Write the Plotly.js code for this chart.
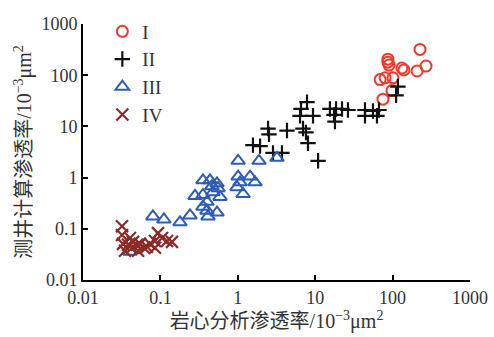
<!DOCTYPE html>
<html>
<head>
<meta charset="utf-8">
<script src="https://cdn.plot.ly/plotly-3.0.1.min.js"></script>
<style>html,body{margin:0;padding:0;background:#fff;}#chart{width:494px;height:337px;}</style>
</head>
<body>
<div id="chart"></div>
<script>
// Class I (red circles)
const x1 = [226, 270, 207, 87, 87, 90, 132, 140, 69, 80, 101, 98, 75];
const y1 = [319, 151, 121, 206, 180, 158, 138, 127, 82, 89, 89, 50, 34];
// Class II (black crosses)
const x2 = [1.57, 1.94, 2.46, 2.53, 2.85, 3.72, 4.32, 6.96, 7.6, 8.07, 10.9, 7.84, 6.56, 6.37, 9.37, 15.5, 18.6, 22.2, 26.5, 17.5, 18.0, 44, 44, 55.8, 66.7, 62.8, 117, 111];
const y2 = [4.3, 4.12, 9.08, 6.98, 3.03, 3.03, 8.3, 9.08, 7.62, 4.7, 2.13, 29.7, 21.9, 16.1, 16.1, 21.9, 21.9, 21.9, 20.9, 16.8, 12.4, 20.9, 16.1, 20, 20.9, 16.1, 60, 40.5];
// Class III (blue triangles)
const x3 = [0.0405, 0.080, 0.111, 0.179, 0.241, 0.355, 0.437, 0.539, 0.464, 0.555, 0.280, 0.355, 0.589, 0.400, 0.355, 0.539, 0.400, 0.412, 1.01, 1.88, 3.21, 1.01, 1.44, 1.07, 1.67, 0.977, 1.17, 0.478];
const y3 = [0.0357, 0.174, 0.152, 0.134, 0.182, 0.885, 0.885, 0.775, 0.68, 0.622, 0.438, 0.457, 0.419, 0.336, 0.27, 0.207, 0.226, 0.174, 2.13, 2.13, 2.43, 1.05, 1.05, 0.81, 0.81, 0.65, 0.478, 0.52];
// Class IV (brown x)
const x4 = [0.0319, 0.0319, 0.0329, 0.0349, 0.0405, 0.0443, 0.0499, 0.043, 0.0545, 0.0614, 0.0514, 0.0382, 0.0734, 0.0851, 0.0931, 0.105, 0.122, 0.141, 0.0851, 0.0671];
const y4 = [0.112, 0.0755, 0.0508, 0.0374, 0.0662, 0.0555, 0.0486, 0.0426, 0.0508, 0.0426, 0.0374, 0.0486, 0.0508, 0.058, 0.0824, 0.0662, 0.058, 0.0555, 0.0426, 0.0446];

const names = ['I', 'II', 'III', 'IV'];
const tickVals = [0.01, 0.1, 1, 10, 100, 1000];
const tickText = ['0.01', '0.1', '1', '10', '100', '1000'];

const traces = [
  {x: x1, y: y1, name: names[0], legendgroup: 'a', type: 'scatter', mode: 'markers',
   marker: {symbol: 'circle-open', size: 11, color: '#ee3a2c', line: {width: 2, color: '#ee3a2c'}}},
  {x: x2, y: y2, name: names[1], legendgroup: 'b', type: 'scatter', mode: 'markers',
   marker: {symbol: 'cross-thin-open', size: 11, color: '#111', line: {width: 2.2, color: '#111'}}},
  {x: x3, y: y3, name: names[2], legendgroup: 'c', type: 'scatter', mode: 'markers',
   marker: {symbol: 'triangle-up-open', size: 12, color: '#2f5cb4', line: {width: 2, color: '#2f5cb4'}}},
  {x: x4, y: y4, name: names[3], legendgroup: 'd', type: 'scatter', mode: 'markers',
   marker: {symbol: 'x-thin-open', size: 12, color: '#8b2b27', line: {width: 2.2, color: '#8b2b27'}}}
];

const axisCommon = {
  type: 'log', range: [-2, 3], tickvals: tickVals, ticktext: tickText,
  showgrid: false, zeroline: false, showline: true, linecolor: '#000', linewidth: 2,
  ticks: 'inside', ticklen: 5, tickwidth: 2, tickcolor: '#000',
  tickfont: {family: 'Liberation Serif, serif', size: 18, color: '#333'},
  mirror: false, automargin: false
};

const titleFont = {family: 'Liberation Serif, Noto Sans CJK SC, serif', size: 20, color: '#333'};

const layout = {
  width: 494, height: 337,
  margin: {l: 83, r: 24, t: 18, b: 57},
  paper_bgcolor: '#fff', plot_bgcolor: '#fff',
  showlegend: true,
  legend: {x: 0.05, y: 1.045, xanchor: 'left', yanchor: 'top', bgcolor: 'rgba(0,0,0,0)',
           font: {family: 'Liberation Serif, serif', size: 19, color: '#333'},
           tracegroupgap: 5, itemwidth: 30, traceorder: 'normal'},
  xaxis: Object.assign({}, axisCommon, {
    title: {text: '岩心分析渗透率/10<sup>−3</sup>μm<sup>2</sup>', standoff: 4, font: titleFont}
  }),
  yaxis: Object.assign({}, axisCommon, {
    title: {text: '测井计算渗透率/10<sup>−3</sup>μm<sup>2</sup>', standoff: 4, font: titleFont}
  })
};

Plotly.newPlot('chart', traces, layout, {displayModeBar: false, staticPlot: true});
</script>
</body>
</html>
